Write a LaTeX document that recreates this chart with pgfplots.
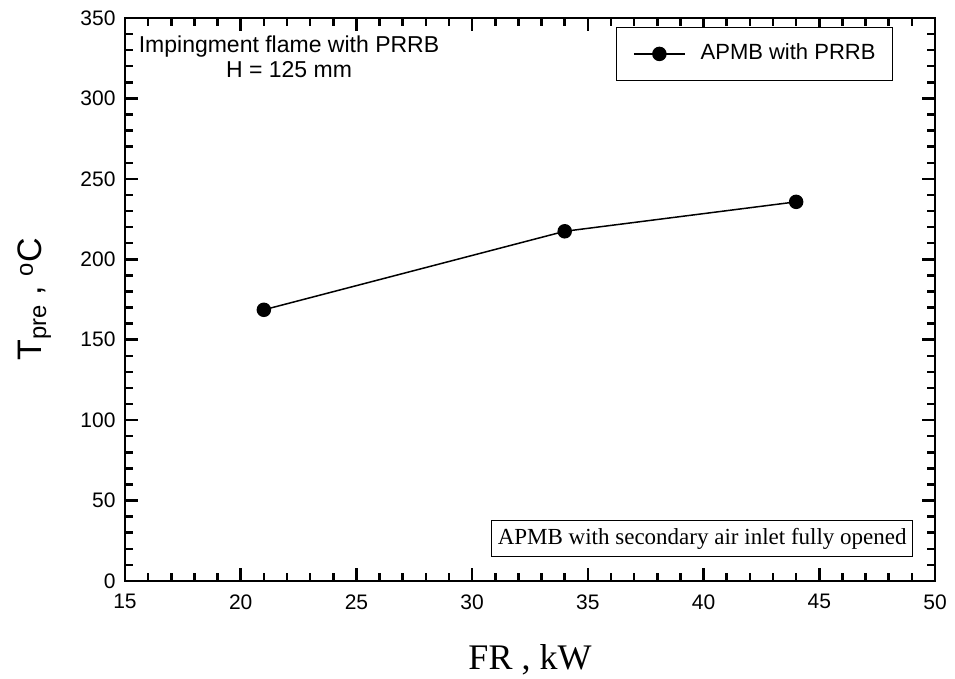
\documentclass[border=0pt]{standalone}
\usepackage{fontspec}
\setmainfont{Liberation Sans}
\newfontfamily\timesfont{Liberation Serif}
\usepackage{pgfplots}
\pgfplotsset{compat=1.18}
\begin{document}
\begin{tikzpicture}
\begin{axis}[
  scale only axis, width=810pt, height=563pt,
  at={(0,0)}, anchor=south west,
  xmin=15, xmax=50, ymin=0, ymax=350,
  xtick={15,20,...,50}, ytick={0,50,...,350},
  minor x tick num=4, minor y tick num=4,
  major tick length=13pt, minor tick length=8pt,
  tick style={black, line width=2.5pt},
  axis line style={line width=1.5pt},
  tick label style={font=\fontsize{21}{25}\selectfont},
  /pgf/number format/assume math mode=true,
  xticklabel style={yshift=-10pt},
  yticklabel style={xshift=-6pt},
  legend style={at={(0.948,0.984)}, anchor=north east, draw=black, line width=0.8pt,
    nodes={inner sep=0pt, text height=16pt, text depth=5pt},
    inner xsep=17pt, inner ysep=16pt, font=\fontsize{22}{26}\selectfont,
    /tikz/every odd column/.append style={column sep=15pt}},
  legend image code/.code={\draw[mark repeat=2,mark phase=2,line width=1.5pt] plot coordinates {(0pt,0pt)(25.5pt,0pt)(51pt,0pt)};},
]
\addplot[black, line width=1.5pt, mark=*, mark size=6.5pt, mark options={solid, fill=black}] coordinates {(21,168.6) (34,217.4) (44,235.7)};
\addlegendentry{APMB with PRRB}
\end{axis}
\node[anchor=base, font=\fontsize{23}{27}\selectfont] at (164pt,528pt) {Impingment flame with PRRB};
\node[anchor=base, font=\fontsize{23}{27}\selectfont] at (164pt,503pt) {H = 125 mm};
\node[draw=black, line width=0.8pt, anchor=south east, inner xsep=6pt, minimum height=36pt, font=\timesfont\fontsize{23}{27}\selectfont] at (788pt,24pt) {APMB with secondary air inlet fully opened};
\node[rotate=90, anchor=base, font=\fontsize{34}{40}\selectfont] at (-83pt,281.5pt) {T\textsubscript{pre} , \textsuperscript{o}C};
\node[anchor=base, font=\timesfont\fontsize{36}{40}\selectfont] at (405pt,-89pt) {FR , kW};
\path (-125pt,-96pt) rectangle (830pt,581pt);
\end{tikzpicture}
\end{document}
